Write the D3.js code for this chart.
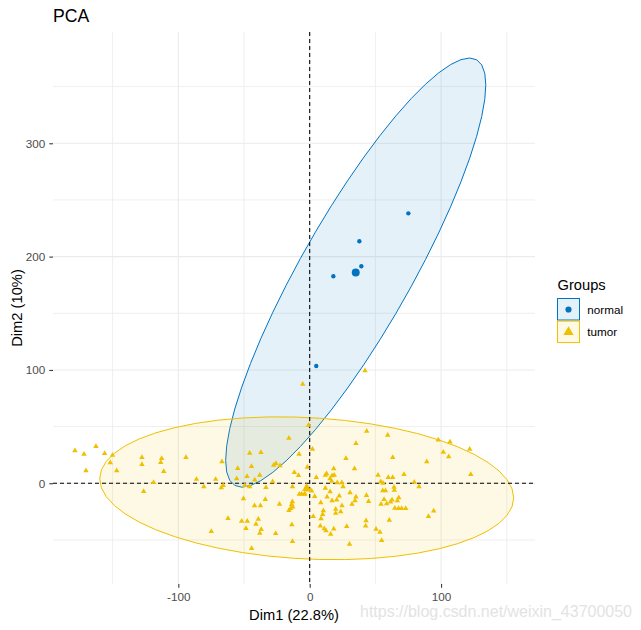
<!DOCTYPE html>
<html><head><meta charset="utf-8">
<script src="https://cdn.jsdelivr.net/npm/d3@7"></script>
<style>body{margin:0;background:#fff}svg{display:block}</style>
</head><body>
<script>
// ---------------- data ----------------
const title = "PCA";
const xLabel = "Dim1 (22.8%)";
const yLabel = "Dim2 (10%)";
const legendTitle = "Groups";
const groups = ["normal", "tumor"];
const groupColors = ["#0073C2", "#EFC000"];
const xTicks = [-100, 0, 100];
const yTicks = [0, 100, 200, 300];
const xMinor = [-150, -50, 50, 150];
const yMinor = [-50, 50, 150, 250, 350];
const xDomain = [-195.4, 171.5];
const yDomain = [-88.9, 398.2];
const watermark = "https://blog.csdn.net/weixin_43700050";

const normalX = [75.1, 37.8, 39.3, 18.0, 5.0];
const normalY = [238.2, 213.5, 191.5, 182.7, 103.5];

const tumorX = [
 -178.7,-171.8,-162.7,-156.1,-150.1,-151.8,-170.3,-146.9,-127.7,-127.7,
 -112.7,-113.4,-111.1,-94.2,-118.8,-126.4,-86.2,-80.6,-71.6,-66.8,
 -65.8,-67.3,-54.8,-55.6,-47.7,-45.7,-37.1,-44.3,-38.0,-41.8,
 -49.4,-45.7,-28.2,-33.3,-25.7,-27.4,-22.6,-15.8,-8.1,2.1,
 -11.7,-8.5,-1.8,-13.1,-7.9,-4.1,3.8,-50.4,-33.8,-42.0,
 -37.5,-23.0,-13.2,-13.7,-14.5,-15.8,-12.9,2.7,-62.2,-51.8,
 -47.5,-39.1,-40.9,-48.5,-36.9,-38.0,-74.9,-25.9,-13.6,-13.1,
 -44.2,-0.9,-5.3,42.1,-2.3,-1.3,1.5,-3.6,-6.1,5.0,
 8.1,43.4,59.4,35.2,63.2,27.6,89.1,18.3,34.1,12.9,
 11.9,17.0,18.7,15.5,16.7,52.0,71.8,59.8,63.2,54.1,
 55.8,79.6,83.2,21.0,24.4,25.4,11.9,15.5,30.7,55.6,
 57.7,64.4,64.2,43.2,35.2,34.5,13.2,22.5,17.0,20.6,
 44.8,56.6,58.6,54.3,61.5,62.7,67.8,66.7,32.2,24.6,
 8.4,19.8,19.8,23.6,10.4,9.9,8.6,64.8,67.6,73.1,
 70.0,42.9,42.6,60.6,90.4,94.4,11.1,12.4,18.3,16.0,
 28.2,50.5,53.5,54.8,30.3,97.9,106.8,121.8,101.7,105.8,
 122.6
];
const tumorY = [
 28.8,25.6,32.6,26.3,24.7,18.2,11.1,11.1,22.8,16.6,
 21.9,18.4,10.4,22.8,0.7,-7.2,3.5,-3.0,3.5,19.1,
 -1.8,-3.9,13.2,4.1,6.0,26.5,27.2,14.8,7.1,2.9,
 -1.8,-3.0,1.3,-3.7,17.6,15.9,15.5,39.7,25.6,30.0,
 9.5,6.9,14.1,-3.0,-9.7,-9.7,-11.6,-13.6,-14.3,-19.8,
 -19.8,-18.4,-16.2,-18.7,-22.1,-24.0,-20.9,-29.3,-31.1,-33.5,
 -33.5,-31.7,-36.2,-39.9,-40.8,-44.1,-42.4,-44.3,-36.5,-51.4,
 -57.4,51.2,87.4,99.4,-3.0,-5.9,-6.8,-9.4,-9.4,5.1,
 -37.7,45.9,42.4,35.1,22.9,21.9,19.1,12.9,12.9,8.5,
 7.1,6.7,7.1,4.1,1.8,7.1,7.9,5.1,5.1,1.4,
 0.0,0.9,-3.0,0.5,0.5,-3.0,-4.4,-7.4,-8.3,-6.5,
 -6.5,-6.2,-3.5,-10.8,-12.1,-15.4,-12.1,-11.2,-15.4,-14.7,
 -16.1,-14.3,-18.1,-18.4,-16.5,-14.7,-12.8,-15.4,-18.5,-19.8,
 -17.1,-22.9,-26.5,-25.1,-24.2,-27.4,-31.2,-22.0,-22.1,-22.1,
 -22.1,-33.1,-37.7,-32.6,-29.3,-24.4,-40.1,-41.8,-40.3,-45.0,
 -38.1,-40.6,-43.2,-50.5,-53.8,38.2,36.4,30.0,27.4,23.5,
 7.9
];

// ---------------- layout ----------------
const W = 641, H = 630;
const panel = {left: 53, right: 535, top: 32, bottom: 584};
const FONT = "'Liberation Sans', Arial, sans-serif";

const svg = d3.select("body").append("svg").attr("width", W).attr("height", H)
  .style("font-family", FONT);

const x = d3.scaleLinear().domain(xDomain).range([panel.left, panel.right]);
const y = d3.scaleLinear().domain(yDomain).range([panel.bottom, panel.top]);

// grid
const grid = svg.append("g");
grid.selectAll(".vmin").data(xMinor).join("line")
  .attr("x1", d => x(d)).attr("x2", d => x(d)).attr("y1", panel.top).attr("y2", panel.bottom)
  .attr("stroke", "#EBEBEB").attr("stroke-width", 0.8);
grid.selectAll(".hmin").data(yMinor).join("line")
  .attr("y1", d => y(d)).attr("y2", d => y(d)).attr("x1", panel.left).attr("x2", panel.right)
  .attr("stroke", "#EBEBEB").attr("stroke-width", 0.8);
grid.selectAll(".vmaj").data(xTicks).join("line")
  .attr("x1", d => x(d)).attr("x2", d => x(d)).attr("y1", panel.top).attr("y2", panel.bottom)
  .attr("stroke", "#EBEBEB").attr("stroke-width", 1.07);
grid.selectAll(".hmaj").data(yTicks).join("line")
  .attr("y1", d => y(d)).attr("y2", d => y(d)).attr("x1", panel.left).attr("x2", panel.right)
  .attr("stroke", "#EBEBEB").attr("stroke-width", 1.07);

// ellipses (95% normal-theory, like stat_ellipse type = "norm")
function ellipse(xs, ys, level = 0.95, segs = 51) {
  const n = xs.length, mx = d3.mean(xs), my = d3.mean(ys);
  let sxx = 0, syy = 0, sxy = 0;
  for (let i = 0; i < n; i++) {
    const dx = xs[i] - mx, dy = ys[i] - my;
    sxx += dx * dx; syy += dy * dy; sxy += dx * dy;
  }
  sxx /= n - 1; syy /= n - 1; sxy /= n - 1;
  const a = Math.sqrt(sxx), b = sxy / a, c = Math.sqrt(syy - b * b);
  const d = n - 1;
  const q = (d / 2) * (Math.pow(1 - level, -2 / d) - 1); // qf(level, 2, d)
  const r = Math.sqrt(2 * q);
  const pts = [];
  for (let i = 0; i < segs; i++) {
    const t = 2 * Math.PI * i / (segs - 1);
    pts.push([mx + r * a * Math.cos(t), my + r * (b * Math.cos(t) + c * Math.sin(t))]);
  }
  return {pts, mx, my};
}
const groupData = [
  {name: groups[0], xs: normalX, ys: normalY, color: groupColors[0], shape: d3.symbolCircle, size: 15, meanSize: 50},
  {name: groups[1], xs: tumorX, ys: tumorY, color: groupColors[1], shape: d3.symbolTriangle, size: 13, meanSize: 36}
];
const line = d3.line().x(d => x(d[0])).y(d => y(d[1])).curve(d3.curveLinearClosed);
groupData.forEach(g => { g.ell = ellipse(g.xs, g.ys); });

const ellG = svg.append("g");
groupData.forEach(g => {
  ellG.append("path").attr("d", line(g.ell.pts))
    .attr("fill", g.color).attr("fill-opacity", 0.1)
    .attr("stroke", g.color).attr("stroke-width", 1);
});

// reference lines
svg.append("line").attr("x1", panel.left).attr("x2", panel.right)
  .attr("y1", y(0)).attr("y2", y(0))
  .attr("stroke", "#000").attr("stroke-width", 1.07).attr("stroke-dasharray", "4,3");
svg.append("line").attr("y1", panel.top).attr("y2", panel.bottom)
  .attr("x1", x(0)).attr("x2", x(0))
  .attr("stroke", "#000").attr("stroke-width", 1.07).attr("stroke-dasharray", "4,3");

// points
const ptG = svg.append("g");
groupData.forEach(g => {
  const sym = d3.symbol().type(g.shape).size(g.size);
  ptG.selectAll(null).data(d3.range(g.xs.length)).join("path")
    .attr("d", sym)
    .attr("transform", i => `translate(${x(g.xs[i])},${y(g.ys[i])})`)
    .attr("fill", g.color);
  ptG.append("path").attr("d", d3.symbol().type(g.shape).size(g.meanSize))
    .attr("transform", `translate(${x(g.ell.mx)},${y(g.ell.my)})`)
    .attr("fill", g.color);
});

// axes
const axX = svg.append("g").attr("transform", `translate(0,${panel.bottom})`)
  .call(d3.axisBottom(x).tickValues(xTicks).tickSize(3.7).tickPadding(5).tickFormat(d3.format("d")));
const axY = svg.append("g").attr("transform", `translate(${panel.left},0)`)
  .call(d3.axisLeft(y).tickValues(yTicks).tickSize(3.7).tickPadding(4).tickFormat(d3.format("d")));
[axX, axY].forEach(ax => {
  ax.select(".domain").remove();
  ax.selectAll(".tick line").attr("stroke", "#333333").attr("stroke-width", 1.07);
  ax.selectAll(".tick text").attr("fill", "#4D4D4D").style("font-size", "11.7px").style("font-family", FONT);
});
axX.selectAll(".tick text").text(d => d < 0 ? "-" + Math.abs(d) : d);

// titles
svg.append("text").attr("x", panel.left).attr("y", 21.7).text(title)
  .style("font-size", "17.6px").attr("fill", "#000");
svg.append("text").attr("x", (panel.left + panel.right) / 2).attr("y", 620)
  .attr("text-anchor", "middle").text(xLabel).style("font-size", "14.7px").attr("fill", "#000");
svg.append("text").attr("transform", `translate(21.5,${(panel.top + panel.bottom) / 2}) rotate(-90)`)
  .attr("text-anchor", "middle").text(yLabel).style("font-size", "14.7px").attr("fill", "#000");

// legend
const lg = svg.append("g").attr("transform", "translate(557.5,0)");
lg.append("text").attr("x", 0).attr("y", 289.5).text(legendTitle).style("font-size", "14.7px");
groupData.forEach((g, i) => {
  const ky = 298.5 + i * 22.6;
  lg.append("rect").attr("x", 0).attr("y", ky).attr("width", 22).attr("height", 21.5)
    .attr("fill", g.color).attr("fill-opacity", 0.1)
    .attr("stroke", g.color).attr("stroke-width", 1);
  lg.append("path").attr("d", d3.symbol().type(g.shape).size(i === 0 ? 30 : 45))
    .attr("transform", `translate(11,${ky + 11})`).attr("fill", g.color);
  lg.append("text").attr("x", 29.8).attr("y", ky + 15).text(g.name)
    .style("font-size", "11.7px").attr("fill", "#000");
});

// watermark
svg.append("text").attr("x", 360).attr("y", 617).text(watermark)
  .attr("textLength", 272).style("font-size", "16px").attr("fill", "#E3E3E3");
</script>
</body></html>
